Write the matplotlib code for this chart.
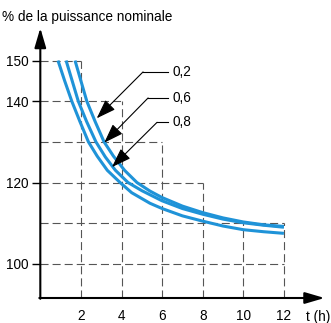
import matplotlib.pyplot as plt

plt.rcParams['font.family'] = ['Liberation Sans', 'DejaVu Sans']
plt.rcParams['lines.scale_dashes'] = False

# courbes : t (h) -> % de la puissance nominale
t_08 = [0.87, 1.2, 1.55, 1.95, 2.37, 2.8, 3.3, 3.93, 4.5, 5.4, 6, 7, 8, 9, 10, 11, 12]
p_08 = [150, 145, 140, 135, 130, 126.5, 123, 120, 117.5, 114.9, 113.6, 111.8, 110.5, 109.3, 108.4, 107.9, 107.5]
t_06 = [1.27, 1.57, 1.87, 2.28, 2.74, 3.2, 3.7, 4.32, 5, 6, 7, 8, 9, 10, 11, 12]
p_06 = [150, 145, 140, 135, 130, 126.3, 123, 120, 118.0, 115.5, 113.6, 112.2, 111.0, 110.1, 109.5, 109.0]
t_02 = [1.71, 2.0, 2.29, 2.7, 3.14, 3.6, 4.15, 4.76, 5.4, 6, 7, 8, 9, 10, 11, 12]
p_02 = [150, 145, 140, 135, 130, 126.5, 123, 120, 117.9, 116.3, 114.2, 112.6, 111.3, 110.3, 109.6, 109.2]

x_ticks = [2, 4, 6, 8, 10, 12]
y_ticks = [100, 120, 140, 150]
# lignes de repere : niveau horizontal -> abscisse de fin
h_levels = [150, 140, 130, 120, 110, 100]
h_ends = [2, 4, 6, 8, 12, 12]
v_levels = [2, 4, 6, 8, 10, 12]
v_tops = [150, 140, 130, 120, 110, 110]

labels = ['0,2', '0,6', '0,8']

blue = '#1f93d8'
ymin, ymax = 91.6, 158
xmax = 14
fs = 9.8

fig = plt.figure(figsize=(3.31, 3.23), dpi=100)
ax = fig.add_axes([0.1218, 0.0774, 0.8586, 0.8359])
ax.set_xlim(0, xmax)
ax.set_ylim(ymin, ymax)
for s in ax.spines.values():
    s.set_visible(False)

dash = dict(color='#555555', lw=0.8, dashes=(5.8, 2.9))
for lev, end in zip(h_levels, h_ends):
    ax.plot([0, end], [lev, lev], **dash)
for lev, top in zip(v_levels, v_tops):
    ax.plot([lev, lev], [ymin, top], **dash)

for t, p in [(t_08, p_08), (t_06, p_06), (t_02, p_02)]:
    ax.plot(t, p, color=blue, lw=2.2, solid_capstyle='butt')

# axes avec fleches
arr = dict(arrowstyle='-|>,head_length=0.85,head_width=0.25', color='black',
           lw=1.5, shrinkA=0, shrinkB=0, mutation_scale=14)
ax.annotate('', xy=(xmax, ymin), xytext=(-0.05, ymin), arrowprops=arr, annotation_clip=False)
ax.annotate('', xy=(0, ymax), xytext=(0, ymin - 0.2), arrowprops=arr, annotation_clip=False)

ax.set_xticks(x_ticks)
ax.set_yticks(y_ticks)
ax.tick_params(axis='x', length=0, pad=8, labelsize=fs)
ax.tick_params(axis='y', length=6, width=1, pad=2.5, labelsize=fs)

ax.text(13.1, 87.0, 't (h)', fontsize=fs, ha='left', va='center', clip_on=False)
fig.text(2 / 331, 1 - 17 / 323, '% de la puissance nominale', fontsize=fs, va='center')

# etiquettes des courbes
lab_y = [147.2, 140.8, 134.8]
knee_x = [5.06, 5.31, 5.75]
tips = [(2.78, 135.8), (3.15, 129.8), (3.53, 123.8)]
ptr = dict(arrowstyle='-|>,head_length=1.0,head_width=0.35', color='black',
           lw=0.8, shrinkA=0, shrinkB=0, mutation_scale=12)
for lab, y, kx, tip in zip(labels, lab_y, knee_x, tips):
    ax.plot([kx, 6.29], [y, y], color='black', lw=0.8)
    ax.annotate('', xy=tip, xytext=(kx, y), arrowprops=ptr)
    ax.text(6.5, y, lab, fontsize=fs, ha='left', va='center')

fig.savefig('out.png', dpi=100)
